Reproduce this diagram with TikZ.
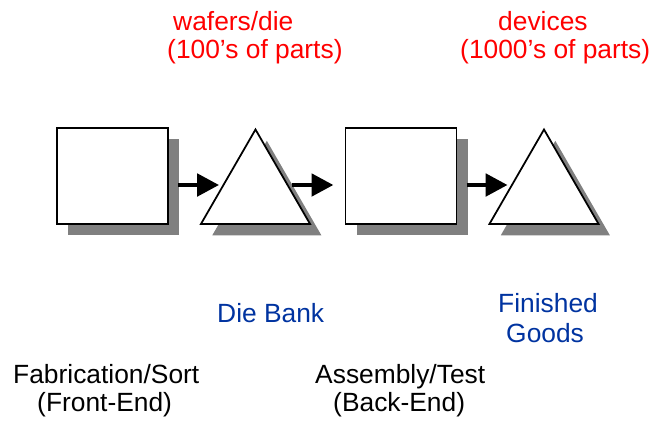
\documentclass[tikz,border=0pt]{standalone}
\usepackage{fontspec}
\setmainfont{Liberation Sans}
\usetikzlibrary{shapes.geometric,shadows,arrows.meta}
\definecolor{partred}{RGB}{255,0,0}
\definecolor{bankblue}{RGB}{0,51,160}
\tikzset{
  stagebox/.style={draw, line width=1.5pt, fill=white, inner sep=0pt, outer sep=0pt,
    minimum width=3.33cm, minimum height=2.88cm,
    drop shadow={shadow xshift=0.34cm, shadow yshift=-0.34cm, fill=gray, opacity=1}},
  bank/.style={draw, line width=1.5pt, fill=white, inner sep=0pt, outer sep=0pt,
    regular polygon, regular polygon sides=3, minimum size=3.78cm,
    drop shadow={shadow xshift=0.34cm, shadow yshift=-0.34cm, fill=gray, opacity=1}},
  flow/.style={line width=4.2pt, -{Triangle[length=0.66cm,width=0.66cm]}},
  txt/.style={inner sep=0pt, anchor=base west, font=\fontsize{22.5}{27}\selectfont}
}
\begin{document}
\begin{tikzpicture}[x=0.03cm,y=-0.03cm]
%
\useasboundingbox (0,0) rectangle (652,420);
%
\node[stagebox] (fab) at (112.5,176) {};
\node[bank] (die) at (255.5,192.5) {};
\node[stagebox] (asm) at (401,176) {};
\node[bank] (fin) at (544,192.5) {};
%
\draw[flow] ([shift={(10,9)}]fab.east) coordinate (f1) -- (f1 -| die.west);
\draw[flow] (die.east |- f1) coordinate (f2) -- ([shift={(-12,0)}]asm.west |- f2);
\draw[flow] ([shift={(10,9)}]asm.east) coordinate (f3) -- (f3 -| fin.west);
%
\node[txt, text=partred] (w1) at (173,30) {wafers/die};
\node[txt, text=partred] (w2) at (167,58) {(100’s of parts)};
\node[txt, text=partred] (d1) at (498,30) {devices};
\node[txt, text=partred] (d2) at (460,58) {(1000’s of parts)};
%
\node[txt, text=bankblue] (db) at (217,322) {Die Bank};
\node[txt, text=bankblue] (g1) at (498,312) {Finished};
\node[txt, text=bankblue] (g2) at (506,342) {Goods};
%
\node[txt] (fe1) at (13,383) {Fabrication/Sort};
\node[txt] (fe2) at (37,411) {(Front-End)};
\node[txt] (be1) at (315,383) {Assembly/Test};
\node[txt] (be2) at (333,411) {(Back-End)};
%
\end{tikzpicture}
\end{document}
